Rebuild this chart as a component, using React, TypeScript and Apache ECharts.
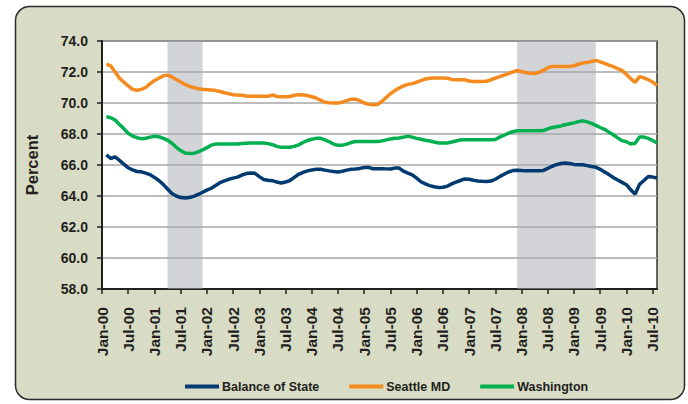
import React, { useEffect, useRef } from "react";
import * as echarts from "echarts";

const MONTH_NAMES = ["Jan", "Feb", "Mar", "Apr", "May", "Jun", "Jul", "Aug", "Sep", "Oct", "Nov", "Dec"];
const YEARS = ["00", "01", "02", "03", "04", "05", "06", "07", "08", "09", "10"];
const LAST_YEAR_MONTHS = 8; // Jan-10 .. Aug-10

const months: string[] = [];
YEARS.forEach((y, yi) => {
  const n = yi === YEARS.length - 1 ? LAST_YEAR_MONTHS : 12;
  for (let m = 0; m < n; m++) months.push(`${MONTH_NAMES[m]}-${y}`);
});

const balanceOfState = [
  null, 66.65, 66.42, 66.52, 66.3, 66.05, 65.82, 65.68, 65.58, 65.56, 65.48, 65.38,
  65.2, 65.0, 64.75, 64.45, 64.16, 64.0, 63.9, 63.87, 63.9, 63.98, 64.1, 64.24,
  64.38, 64.5, 64.68, 64.86, 64.97, 65.08, 65.15, 65.22, 65.35, 65.45, 65.48, 65.46,
  65.25, 65.07, 65.02, 64.99, 64.9, 64.84, 64.9, 65.0, 65.2, 65.4, 65.52, 65.62,
  65.68, 65.72, 65.72, 65.67, 65.62, 65.58, 65.55, 65.6, 65.67, 65.72, 65.74, 65.78,
  65.84, 65.85, 65.76, 65.76, 65.76, 65.75, 65.74, 65.8, 65.8, 65.6, 65.48, 65.37,
  65.15, 64.92, 64.78, 64.67, 64.6, 64.55, 64.57, 64.63, 64.78, 64.9, 65.0, 65.1,
  65.08, 65.02, 64.97, 64.95, 64.94, 64.96, 65.08, 65.25, 65.4, 65.55, 65.64, 65.66,
  65.64, 65.63, 65.63, 65.63, 65.63, 65.65, 65.78, 65.92, 66.02, 66.1, 66.13, 66.1,
  66.04, 66.02, 66.02, 65.96, 65.9, 65.86, 65.72, 65.55, 65.38, 65.2, 65.03, 64.88,
  64.73, 64.4, 64.12, 64.75, 65.0, 65.26, 65.22, 65.16,
];

const seattleMD = [
  null, 72.5, 72.4, 72.0, 71.6, 71.35, 71.1, 70.88, 70.82, 70.88, 71.0, 71.25,
  71.45, 71.6, 71.75, 71.8, 71.68, 71.52, 71.36, 71.2, 71.07, 71.0, 70.92, 70.88,
  70.86, 70.84, 70.8, 70.74, 70.66, 70.6, 70.54, 70.52, 70.5, 70.45, 70.43, 70.43,
  70.43, 70.43, 70.43, 70.52, 70.42, 70.4, 70.4, 70.42, 70.5, 70.54, 70.52, 70.48,
  70.4, 70.32, 70.18, 70.05, 70.02, 70.0, 70.0, 70.05, 70.15, 70.25, 70.25, 70.15,
  70.0, 69.92, 69.89, 69.9, 70.1, 70.35, 70.6, 70.8, 70.97, 71.1, 71.2, 71.25,
  71.35, 71.45, 71.55, 71.6, 71.61, 71.61, 71.61, 71.6, 71.52, 71.5, 71.5, 71.5,
  71.42, 71.39, 71.39, 71.39, 71.4, 71.5, 71.6, 71.7, 71.8, 71.9, 72.0, 72.1,
  72.02, 71.97, 71.92, 71.9, 71.98, 72.1, 72.28, 72.36, 72.36, 72.36, 72.36, 72.36,
  72.4, 72.5, 72.58, 72.62, 72.68, 72.75, 72.65, 72.55, 72.45, 72.35, 72.22, 72.1,
  71.85, 71.57, 71.33, 71.7, 71.62, 71.5, 71.35, 71.14,
];

const washington = [
  null, 69.12, 69.05, 68.9, 68.62, 68.35, 68.05, 67.87, 67.76, 67.7, 67.73, 67.8,
  67.85, 67.83, 67.72, 67.6, 67.4, 67.14, 66.93, 66.77, 66.74, 66.75, 66.85, 66.97,
  67.12, 67.28, 67.35, 67.35, 67.35, 67.35, 67.35, 67.36, 67.38, 67.4, 67.42, 67.42,
  67.42, 67.42, 67.38, 67.31, 67.2, 67.14, 67.14, 67.14, 67.2, 67.3, 67.45, 67.58,
  67.66, 67.72, 67.72, 67.62, 67.5, 67.35, 67.27, 67.28, 67.35, 67.45, 67.52, 67.52,
  67.52, 67.52, 67.52, 67.52, 67.55, 67.62, 67.68, 67.72, 67.74, 67.8, 67.85, 67.8,
  67.72, 67.66, 67.6, 67.55, 67.48, 67.42, 67.42, 67.42, 67.48, 67.55, 67.62, 67.63,
  67.63, 67.63, 67.63, 67.63, 67.63, 67.63, 67.65, 67.8, 67.92, 68.05, 68.15, 68.21,
  68.21, 68.21, 68.21, 68.21, 68.21, 68.22, 68.33, 68.42, 68.47, 68.52, 68.6, 68.66,
  68.72, 68.8, 68.85, 68.78, 68.68, 68.56, 68.42, 68.3, 68.12, 67.95, 67.75, 67.57,
  67.5, 67.35, 67.4, 67.8, 67.8, 67.72, 67.58, 67.42,
];

const recessions: [string, string][] = [
  ["Apr-01", "Dec-01"],
  ["Dec-07", "Jun-09"],
];

const yTicks = { min: 58, max: 74, interval: 2 };

const FONT = '"Liberation Sans", Arial, sans-serif';
const TEXT = "#231f20";

export default function App() {
  const ref = useRef<HTMLDivElement>(null);
  useEffect(() => {
    document.body.style.margin = "0";
    if (!ref.current) return;
    const chart = echarts.init(ref.current, undefined, { renderer: "svg" });
    chart.setOption({
      animation: false,
      graphic: [
        {
          type: "rect",
          z: -100,
          silent: true,
          shape: { x: 15.5, y: 6.5, width: 669, height: 393, r: 14 },
          style: { fill: "#d9dcc4", stroke: "#2b2b2b", lineWidth: 1.5 },
        },
      ],
      grid: {
        left: 102,
        right: 31,
        top: 41,
        bottom: 115,
        show: true,
        backgroundColor: "#ffffff",
        borderColor: "#333333",
        borderWidth: 1.5,
      },
      legend: {
        data: ["Balance of State", "Seattle MD", "Washington"],
        left: 180,
        top: 375,
        icon: "rect",
        itemWidth: 34,
        itemHeight: 4,
        itemGap: 30,
        textStyle: { fontFamily: FONT, fontWeight: "bold", fontSize: 12.5, color: TEXT, padding: [0, 0, 0, -2] },
      },
      xAxis: {
        type: "category",
        data: months,
        boundaryGap: false,
        axisLine: { lineStyle: { color: "#231f20", width: 2 } },
        axisTick: { interval: 5, length: 5, lineStyle: { color: "#231f20", width: 1.5 } },
        axisLabel: {
          interval: 5,
          rotate: 90,
          margin: 18,
          fontFamily: FONT,
          fontWeight: "bold",
          fontSize: 15.5,
          color: TEXT,
        },
        splitLine: { show: false },
      },
      yAxis: {
        type: "value",
        min: yTicks.min,
        max: yTicks.max,
        interval: yTicks.interval,
        name: "Percent",
        nameLocation: "middle",
        nameRotate: 90,
        nameGap: 62,
        nameTextStyle: { fontFamily: FONT, fontWeight: "bold", fontSize: 16.5, color: TEXT },
        axisLine: { show: true, lineStyle: { color: "#231f20", width: 2 } },
        axisTick: { show: true, length: 5, lineStyle: { color: "#231f20", width: 1.5 } },
        axisLabel: {
          formatter: (v: number) => v.toFixed(1),
          fontFamily: FONT,
          fontWeight: "bold",
          fontSize: 14,
          color: TEXT,
          margin: 14,
        },
        splitLine: { lineStyle: { color: "#a6a6a6", width: 1.5 } },
      },
      series: [
        {
          name: "Balance of State",
          type: "line",
          data: balanceOfState,
          symbol: "none",
          lineStyle: { color: "#003a70", width: 3.5 },
          itemStyle: { color: "#003a70" },
          z: 2,
        },
        {
          name: "Seattle MD",
          type: "line",
          data: seattleMD,
          symbol: "none",
          lineStyle: { color: "#f58a1f", width: 3.5 },
          itemStyle: { color: "#f58a1f" },
          z: 2,
        },
        {
          name: "Washington",
          type: "line",
          data: washington,
          symbol: "none",
          lineStyle: { color: "#00b050", width: 3.5 },
          itemStyle: { color: "#00b050" },
          z: 2,
        },
        {
          name: "recession",
          type: "line",
          data: [],
          z: 10,
          silent: true,
          markArea: {
            silent: true,
            itemStyle: { color: "rgba(168,170,178,0.5)" },
            data: recessions.map(([a, b]) => [{ xAxis: a }, { xAxis: b }]),
          },
        },
      ],
    });
    return () => chart.dispose();
  }, []);
  return <div ref={ref} style={{ width: 688, height: 404 }} />;
}
